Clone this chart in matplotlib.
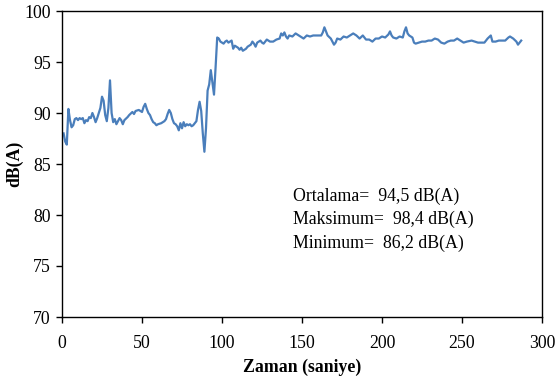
import matplotlib
matplotlib.use("Agg")
import matplotlib.pyplot as plt

# Sound level record (time in s, level in dB(A))
zaman = [1, 2, 3, 4, 5, 6, 7, 8, 9, 10, 11, 12, 13, 14, 15, 16, 17, 18, 19, 20,
         21, 22, 23, 24, 25, 26, 27, 28, 29, 30, 31, 32, 33, 34, 35, 36, 37, 38, 39, 41,
         42, 44, 45, 46, 48, 50, 51, 52, 53, 54, 55, 56, 57, 58, 59, 60, 62, 64, 65, 66,
         67, 68, 69, 70, 71, 72, 73, 74, 75, 76, 77, 78, 79, 80, 81, 82, 83, 84, 85, 86,
         87, 88, 89, 90, 91, 92, 93, 94, 95, 96, 97, 98, 99, 100, 101, 102, 103, 104, 105, 106,
         107, 108, 109, 110, 111, 112, 113, 114, 115, 116, 117, 118, 119, 120, 121, 122, 124, 125, 126, 127,
         128, 130, 132, 134, 136, 137, 138, 139, 140, 141, 142, 144, 146, 148, 150, 151, 153, 155, 157, 160,
         162, 163, 164, 165, 166, 168, 170, 171, 172, 174, 176, 178, 180, 182, 184, 186, 188, 190, 192, 194,
         196, 198, 200, 202, 204, 205, 206, 207, 209, 211, 213, 214, 215, 216, 217, 219, 220, 221, 223, 225,
         227, 229, 231, 233, 235, 237, 239, 241, 243, 245, 247, 249, 251, 253, 256, 258, 260, 262, 264, 266,
         268, 269, 271, 273, 275, 277, 279, 280, 282, 284, 285, 287]
seviye = [88.0, 87.2, 86.9, 90.4, 89.3, 88.6, 88.8, 89.4, 89.5, 89.3, 89.5, 89.4, 89.5, 89.0, 89.3, 89.2, 89.6, 89.5, 90.0, 89.6,
          89.1, 89.5, 90.0, 90.5, 91.6, 91.2, 89.8, 89.2, 90.5, 93.2, 90.0, 89.1, 89.4, 88.9, 89.2, 89.5, 89.3, 88.9, 89.3, 89.6,
          89.8, 90.1, 89.9, 90.2, 90.3, 90.1, 90.6, 90.9, 90.4, 90.0, 89.8, 89.4, 89.1, 89.0, 88.8, 88.9, 89.0, 89.2, 89.4, 89.9,
          90.3, 90.0, 89.4, 89.0, 88.9, 88.7, 88.3, 89.0, 88.5, 89.1, 88.7, 88.9, 88.8, 88.9, 88.7, 88.8, 89.0, 89.2, 90.3, 91.1,
          90.2, 88.0, 86.2, 88.5, 92.2, 92.8, 94.2, 93.0, 91.8, 94.5, 97.4, 97.3, 97.0, 96.9, 96.8, 97.0, 97.1, 96.9, 97.0, 97.1,
          96.3, 96.6, 96.5, 96.4, 96.2, 96.4, 96.1, 96.2, 96.3, 96.5, 96.6, 96.7, 97.0, 96.8, 96.5, 96.9, 97.1, 96.9, 96.8, 97.0,
          97.2, 97.0, 97.0, 97.2, 97.3, 97.8, 97.6, 97.9, 97.5, 97.3, 97.6, 97.5, 97.8, 97.6, 97.4, 97.3, 97.6, 97.5, 97.6, 97.6,
          97.6, 97.9, 98.4, 98.0, 97.6, 97.3, 96.7, 96.9, 97.3, 97.2, 97.5, 97.4, 97.6, 97.8, 97.6, 97.3, 97.6, 97.2, 97.2, 97.0,
          97.3, 97.3, 97.5, 97.4, 97.7, 98.0, 97.6, 97.4, 97.3, 97.5, 97.4, 98.0, 98.4, 97.8, 97.6, 97.4, 96.9, 96.8, 96.9, 97.0,
          97.0, 97.1, 97.1, 97.3, 97.2, 96.9, 96.8, 97.0, 97.1, 97.1, 97.3, 97.1, 96.9, 97.0, 97.1, 97.0, 96.9, 96.9, 96.9, 97.3,
          97.6, 97.0, 97.0, 97.1, 97.1, 97.1, 97.4, 97.5, 97.3, 97.0, 96.7, 97.1]

x_ticks = [0, 50, 100, 150, 200, 250, 300]
y_ticks = [70, 75, 80, 85, 90, 95, 100]
ozet = ["Ortalama=  94,5 dB(A)", "Maksimum=  98,4 dB(A)", "Minimum=  86,2 dB(A)"]

plt.rcParams["font.family"] = ["Liberation Serif", "DejaVu Serif"]

fig = plt.figure(figsize=(5.58, 3.83), dpi=100)
ax = fig.add_axes([62 / 558, 1 - 317 / 383, 480 / 558, 306 / 383])

ax.plot(zaman, seviye, color="#4a7ebb", linewidth=1.6)

ax.set_xlim(0, 300)
ax.set_ylim(70, 100)
ax.set_xticks(x_ticks)
ax.set_yticks(y_ticks)
ax.tick_params(direction="out", length=4, width=1, labelsize=12.8, colors="black",
               top=False, right=False)
ax.tick_params(axis="x", pad=9)
ax.tick_params(axis="y", pad=4)
for s in ax.spines.values():
    s.set_linewidth(1.0)
    s.set_color("black")

ax.set_xlabel("Zaman (saniye)", fontsize=12.8, fontweight="bold", labelpad=5)
ax.set_ylabel("dB(A)", fontsize=12.8, fontweight="bold", labelpad=1)

for i, t in enumerate(ozet):
    ax.text(144.5, 81.85 - i * 2.32, t, fontsize=12.8, ha="left", va="center")

fig.savefig("out.png", dpi=100)
